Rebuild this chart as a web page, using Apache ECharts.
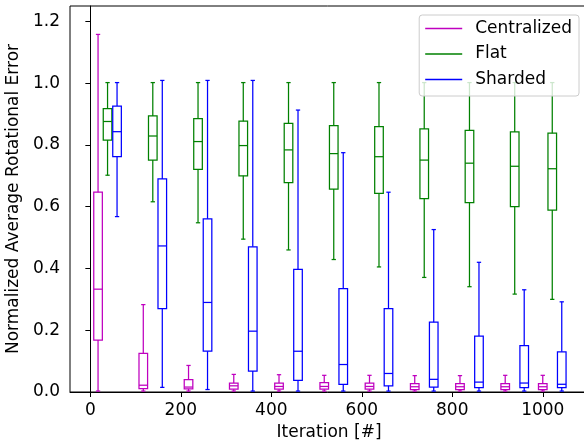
<!DOCTYPE html>
<html>
<head>
<meta charset="utf-8">
<script src="https://cdn.jsdelivr.net/npm/echarts@6/dist/echarts.min.js"></script>
<style>
  html, body { margin: 0; padding: 0; background: #fff; }
  #chart { width: 584px; height: 441px; }
</style>
</head>
<body>
<div id="chart"></div>
<script>
// iteration of each group (last run stopped a bit before 1000)
const iterations = [0, 100, 200, 300, 400, 500, 600, 700, 800, 900, 983];
const xTicks = [0, 200, 400, 600, 800, 1000];
const yTicks = [0, 0.2, 0.4, 0.6, 0.8, 1.0, 1.2];

// [min, q1, median, q3, max]
const centralized = [
  [0.003, 0.168, 0.333, 0.647, 1.158],
  [0.003, 0.011, 0.022, 0.125, 0.283],
  [0.003, 0.010, 0.016, 0.040, 0.086],
  [0.003, 0.009, 0.020, 0.029, 0.057],
  [0.003, 0.009, 0.018, 0.029, 0.056],
  [0.003, 0.009, 0.018, 0.030, 0.054],
  [0.003, 0.009, 0.018, 0.029, 0.054],
  [0.003, 0.008, 0.017, 0.027, 0.053],
  [0.003, 0.008, 0.017, 0.027, 0.053],
  [0.003, 0.008, 0.017, 0.027, 0.054],
  [0.003, 0.008, 0.017, 0.027, 0.054],
];
const flat = [
  [0.702, 0.816, 0.876, 0.918, 1.002],
  [0.616, 0.751, 0.829, 0.894, 1.002],
  [0.548, 0.721, 0.811, 0.885, 1.002],
  [0.495, 0.700, 0.798, 0.877, 1.002],
  [0.460, 0.678, 0.784, 0.870, 1.002],
  [0.429, 0.657, 0.772, 0.863, 1.002],
  [0.405, 0.643, 0.762, 0.859, 1.002],
  [0.371, 0.626, 0.751, 0.852, 1.002],
  [0.341, 0.613, 0.741, 0.847, 1.002],
  [0.317, 0.600, 0.731, 0.842, 1.002],
  [0.300, 0.589, 0.723, 0.838, 1.002],
];
const sharded = [
  [0.568, 0.762, 0.843, 0.926, 1.002],
  [0.015, 0.270, 0.473, 0.690, 1.009],
  [0.008, 0.132, 0.290, 0.561, 1.009],
  [0.003, 0.068, 0.197, 0.470, 1.009],
  [0.003, 0.038, 0.132, 0.397, 0.913],
  [0.003, 0.025, 0.089, 0.335, 0.775],
  [0.003, 0.020, 0.060, 0.270, 0.647],
  [0.003, 0.016, 0.041, 0.226, 0.526],
  [0.003, 0.014, 0.032, 0.181, 0.420],
  [0.003, 0.014, 0.029, 0.150, 0.331],
  [0.003, 0.014, 0.025, 0.130, 0.292],
];

const FONT = "DejaVu Sans";
const FS = 17;
const BOX_W = 19; // in iteration units

function boxData(stats, offset) {
  return stats.map((s, i) => [iterations[i] + offset].concat(s));
}

function renderBox(params, api) {
  const x = api.value(0);
  const half = api.size([BOX_W, 0])[0] / 2;
  const cap = half / 2;
  const pMin = api.coord([x, api.value(1)]);
  const pQ1 = api.coord([x, api.value(2)]);
  const pMed = api.coord([x, api.value(3)]);
  const pQ3 = api.coord([x, api.value(4)]);
  const pMax = api.coord([x, api.value(5)]);
  const cx = pMin[0];
  const style = { stroke: api.visual("color"), lineWidth: 1.25, fill: null };
  const line = (x1, y1, x2, y2) => ({
    type: "line",
    shape: { x1: x1, y1: y1, x2: x2, y2: y2 },
    style: style,
  });
  return {
    type: "group",
    children: [
      line(cx, pMin[1], cx, pQ1[1]),
      line(cx, pQ3[1], cx, pMax[1]),
      line(cx - cap, pMin[1], cx + cap, pMin[1]),
      line(cx - cap, pMax[1], cx + cap, pMax[1]),
      {
        type: "rect",
        shape: { x: cx - half, y: pQ3[1], width: half * 2, height: pQ1[1] - pQ3[1] },
        style: style,
      },
      line(cx - half, pMed[1], cx + half, pMed[1]),
    ],
  };
}

function boxSeries(name, color, stats, offset) {
  return {
    name: name,
    type: "custom",
    renderItem: renderBox,
    itemStyle: { color: color },
    encode: { x: 0, y: [1, 2, 3, 4, 5] },
    data: boxData(stats, offset),
    animation: false,
  };
}

const chart = echarts.init(document.getElementById("chart"));
chart.setOption({
  animation: false,
  backgroundColor: "#fff",
  textStyle: { fontFamily: FONT },
  grid: {
    left: 70,
    top: 6,
    width: 518,
    height: 386,
    outerBoundsMode: "none",
    containLabel: false,
    show: true,
    borderColor: "#000",
    borderWidth: 1,
  },
  legend: {
    orient: "vertical",
    right: 5,
    top: 15,
    padding: [5, 7, 8, 6],
    itemGap: 8.5,
    itemWidth: 37,
    itemHeight: 1.5,
    icon: "rect",
    backgroundColor: "rgba(255,255,255,0.8)",
    borderColor: "#cccccc",
    borderWidth: 1,
    borderRadius: 3,
    textStyle: {
      fontFamily: FONT,
      fontSize: FS,
      lineHeight: FS,
      color: "#000",
      padding: [0, 0, 0, 8],
    },
    data: ["Centralized", "Flat", "Sharded"],
  },
  xAxis: {
    type: "value",
    min: -45,
    max: 1100,
    name: "Iteration [#]",
    nameLocation: "middle",
    nameGap: 29,
    nameTextStyle: { fontFamily: FONT, fontSize: FS, color: "#000" },
    axisLine: { show: true, lineStyle: { color: "#000", width: 1 } },
    axisTick: { show: true, length: 5, customValues: xTicks, lineStyle: { color: "#000" } },
    axisLabel: {
      customValues: xTicks,
      margin: 10,
      fontFamily: FONT,
      fontSize: FS,
      color: "#000",
      formatter: (v) => String(v),
    },
    splitLine: { show: false },
  },
  yAxis: {
    type: "value",
    min: 0,
    max: 1.25,
    name: "Normalized Average Rotational Error",
    nameLocation: "middle",
    nameGap: 44,
    nameTextStyle: { fontFamily: FONT, fontSize: FS, color: "#000" },
    axisLine: { show: true, lineStyle: { color: "#000", width: 1 } },
    axisTick: { show: true, length: 5, customValues: yTicks, lineStyle: { color: "#000" } },
    axisLabel: {
      customValues: yTicks,
      margin: 10,
      fontFamily: FONT,
      fontSize: FS,
      color: "#000",
      formatter: (v) => v.toFixed(1),
    },
    splitLine: { show: false },
  },
  series: [
    boxSeries("Centralized", "#bf00bf", centralized, 17),
    boxSeries("Flat", "#008000", flat, 38),
    boxSeries("Sharded", "#0000ff", sharded, 59),
  ],
});
</script>
</body>
</html>
